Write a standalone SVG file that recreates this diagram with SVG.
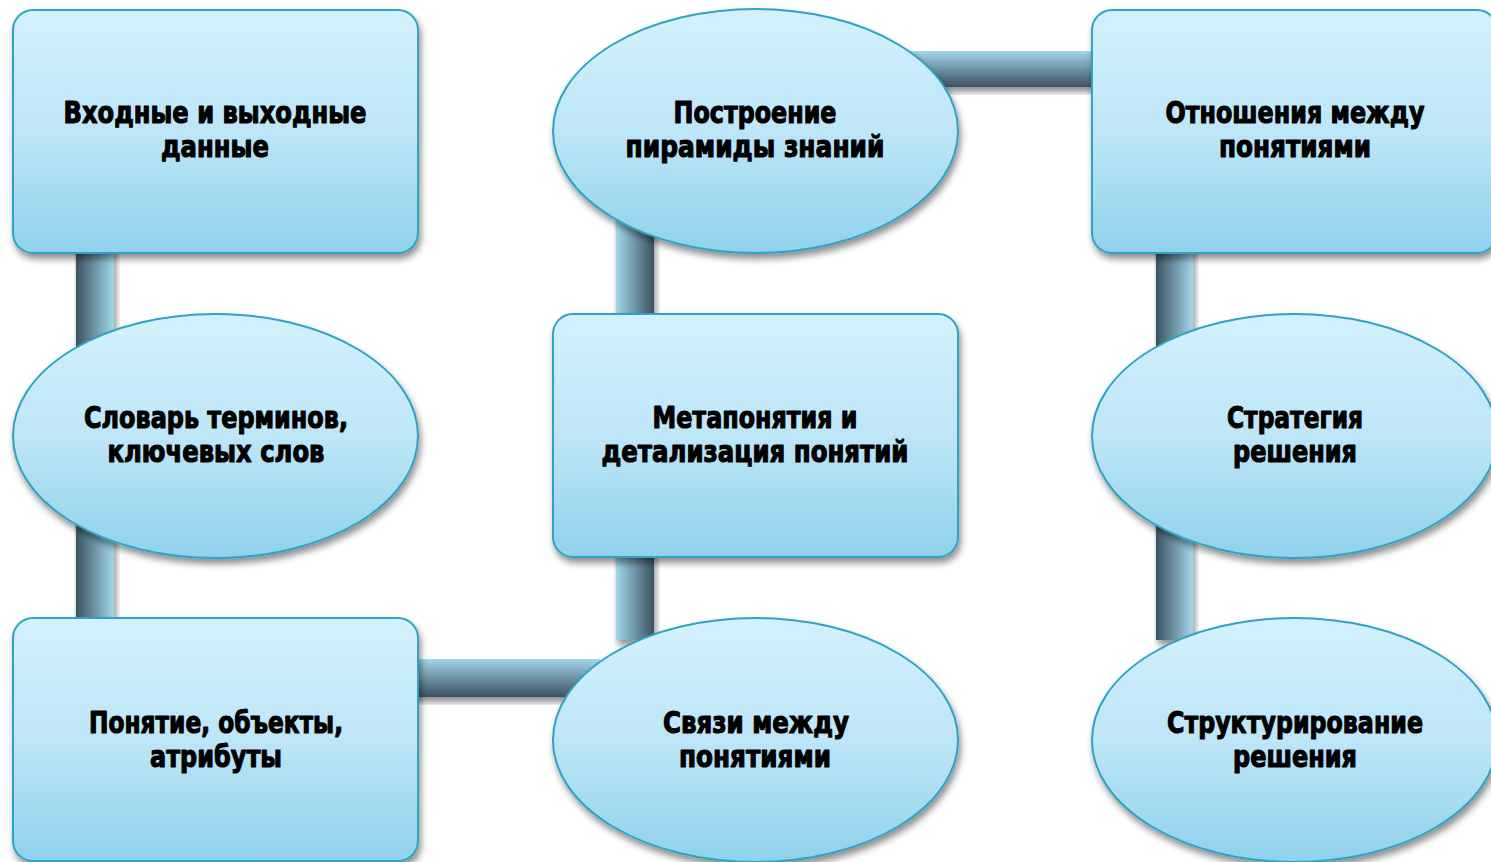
<svg xmlns="http://www.w3.org/2000/svg" width="1491" height="862" viewBox="0 0 1491 862">
  <defs>
    <linearGradient id="nodeFill" x1="0" y1="0" x2="0" y2="1">
      <stop offset="0" stop-color="#d3f1fd"/>
      <stop offset="0.5" stop-color="#bde6f7"/>
      <stop offset="1" stop-color="#8fd1ec"/>
    </linearGradient>
    <linearGradient id="barDarkLeft" x1="0" y1="0" x2="1" y2="0">
      <stop offset="0" stop-color="#3b5260"/>
      <stop offset="1" stop-color="#a2d7eb"/>
    </linearGradient>
    <linearGradient id="barDarkRight" x1="0" y1="0" x2="1" y2="0">
      <stop offset="0" stop-color="#a2d7eb"/>
      <stop offset="1" stop-color="#3b5260"/>
    </linearGradient>
    <linearGradient id="barDarkBottom" x1="0" y1="0" x2="0" y2="1">
      <stop offset="0" stop-color="#a2d7eb"/>
      <stop offset="1" stop-color="#3b5260"/>
    </linearGradient>
    <filter id="shadow" x="-10%" y="-10%" width="125%" height="130%">
      <feGaussianBlur in="SourceAlpha" stdDeviation="3.5"/>
      <feOffset dx="2" dy="5" result="b"/>
      <feComponentTransfer><feFuncA type="linear" slope="0.45"/></feComponentTransfer>
      <feMerge><feMergeNode/><feMergeNode in="SourceGraphic"/></feMerge>
    </filter>
  </defs>
  <style>
    .node { fill: url(#nodeFill); stroke: #2fa3c2; stroke-width: 2; filter: url(#shadow); }
    .label { font-family: "DejaVu Sans", "Liberation Sans", sans-serif; font-stretch: condensed; font-weight: bold; font-size: 31px; fill: #000; stroke: #000; stroke-width: 1.1; stroke-linejoin: round; text-anchor: middle; }
    .bar { filter: url(#shadow); }
  </style>

  <!-- connectors -->
  <g id="connectors">
    <rect class="bar" x="76" y="240" width="38" height="390" fill="url(#barDarkLeft)"/>
    <rect class="bar" x="616" y="200" width="38" height="440" fill="url(#barDarkRight)"/>
    <rect class="bar" x="1156" y="240" width="37" height="400" fill="url(#barDarkLeft)"/>
    <rect class="bar" x="900" y="51" width="200" height="36" fill="url(#barDarkBottom)"/>
    <rect class="bar" x="410" y="659" width="190" height="38" fill="url(#barDarkBottom)"/>
  </g>

  <!-- left column -->
  <g id="node-io">
    <rect class="node" x="13" y="10" width="405" height="243" rx="20"/>
    <text class="label" x="215" y="123" textLength="303" lengthAdjust="spacingAndGlyphs">Входные и выходные</text>
    <text class="label" x="215" y="157" textLength="108" lengthAdjust="spacingAndGlyphs">данные</text>
  </g>
  <g id="node-dictionary">
    <ellipse class="node" cx="215.5" cy="436" rx="202.5" ry="122"/>
    <text class="label" x="216" y="428" textLength="264" lengthAdjust="spacingAndGlyphs">Словарь терминов,</text>
    <text class="label" x="216" y="462" textLength="217" lengthAdjust="spacingAndGlyphs">ключевых слов</text>
  </g>
  <g id="node-concept">
    <rect class="node" x="13" y="618" width="405" height="243" rx="20"/>
    <text class="label" x="216" y="733" textLength="254" lengthAdjust="spacingAndGlyphs">Понятие, объекты,</text>
    <text class="label" x="216" y="767" textLength="132" lengthAdjust="spacingAndGlyphs">атрибуты</text>
  </g>

  <!-- middle column -->
  <g id="node-pyramid">
    <ellipse class="node" cx="755.5" cy="131" rx="202.5" ry="122"/>
    <text class="label" x="755" y="123" textLength="163" lengthAdjust="spacingAndGlyphs">Построение</text>
    <text class="label" x="755" y="157" textLength="259" lengthAdjust="spacingAndGlyphs">пирамиды знаний</text>
  </g>
  <g id="node-meta">
    <rect class="node" x="553" y="314" width="405" height="243" rx="20"/>
    <text class="label" x="755" y="428" textLength="205" lengthAdjust="spacingAndGlyphs">Метапонятия и</text>
    <text class="label" x="755" y="462" textLength="307" lengthAdjust="spacingAndGlyphs">детализация понятий</text>
  </g>
  <g id="node-links">
    <ellipse class="node" cx="755.5" cy="740" rx="202.5" ry="122"/>
    <text class="label" x="756" y="733" textLength="186" lengthAdjust="spacingAndGlyphs">Связи между</text>
    <text class="label" x="755" y="767" textLength="152" lengthAdjust="spacingAndGlyphs">понятиями</text>
  </g>

  <!-- right column -->
  <g id="node-relations">
    <rect class="node" x="1092" y="10" width="405" height="243" rx="20"/>
    <text class="label" x="1295" y="123" textLength="259" lengthAdjust="spacingAndGlyphs">Отношения между</text>
    <text class="label" x="1295" y="157" textLength="152" lengthAdjust="spacingAndGlyphs">понятиями</text>
  </g>
  <g id="node-strategy">
    <ellipse class="node" cx="1294.5" cy="436" rx="202.5" ry="122"/>
    <text class="label" x="1295" y="428" textLength="136" lengthAdjust="spacingAndGlyphs">Стратегия</text>
    <text class="label" x="1295" y="462" textLength="124" lengthAdjust="spacingAndGlyphs">решения</text>
  </g>
  <g id="node-structuring">
    <ellipse class="node" cx="1294.5" cy="740" rx="202.5" ry="122"/>
    <text class="label" x="1295" y="733" textLength="256" lengthAdjust="spacingAndGlyphs">Структурирование</text>
    <text class="label" x="1295" y="767" textLength="124" lengthAdjust="spacingAndGlyphs">решения</text>
  </g>
</svg>
